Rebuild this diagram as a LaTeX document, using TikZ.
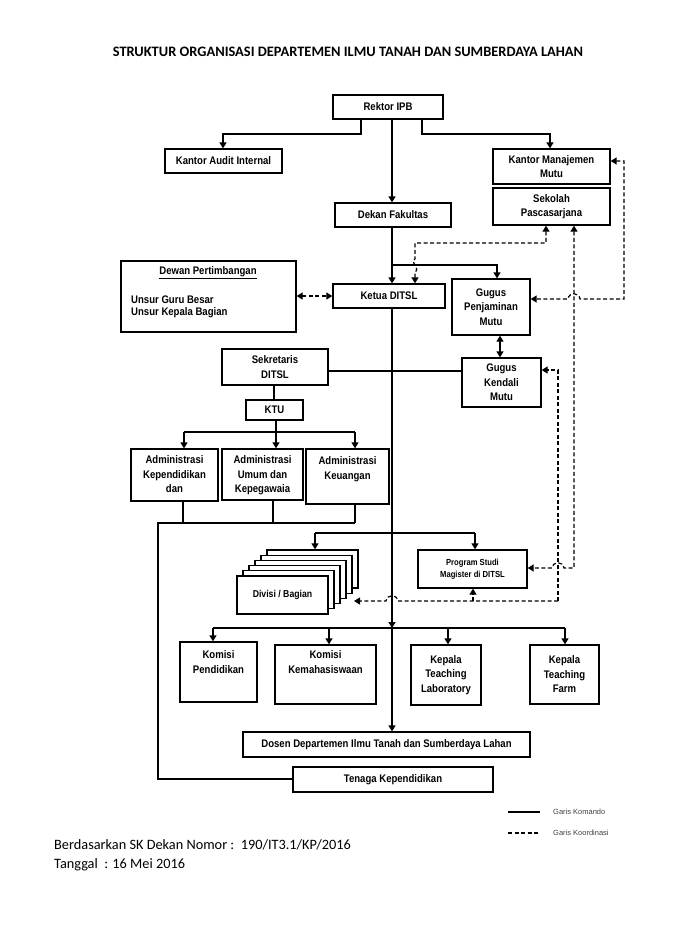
\documentclass[tikz,border=0pt]{standalone}
\usepackage{fontspec}
\setmainfont{Liberation Sans}
\newfontfamily\narrowfont[FakeStretch=0.87]{Liberation Sans}
\newfontfamily\calfont{Carlito}
\usetikzlibrary{arrows.meta}
\newcommand\obox[7][]{\node[bx,#1,minimum width={(#5-#3)*1pt},minimum height={(#6-#4)*1pt}] (#2) at ({(#3+#5)/2},{(#4+#6)/2}) {#7};}
\begin{document}
\begin{tikzpicture}[x=1pt,y=-1pt,
  bx/.style={draw, line width=1.3pt, inner sep=0pt, align=center, fill=white, font=\narrowfont\bfseries\fontsize{11}{14.5}\selectfont},
  txt/.style={inner sep=0pt, align=center, font=\narrowfont\bfseries\fontsize{11}{14.5}\selectfont},
  cmd/.style={line width=1.3pt},
  trunk/.style={line width=1.7pt},
  crd/.style={line width=1.2pt, dash pattern=on 4pt off 2.5pt},
  arr/.style={-{Triangle[length=6pt,width=7pt]}},
  arrb/.style={{Triangle[length=6pt,width=7pt]}-{Triangle[length=6pt,width=7pt]}},
  lgd/.style={inner sep=0pt, anchor=west, text=black!75, font=\fontsize{7.5}{8}\selectfont}]
\useasboundingbox (0,0) rectangle (697,932);

% title
\node[inner sep=0pt, font=\calfont\bfseries\fontsize{14.4}{16}\selectfont] (title) at (348,52) {STRUKTUR ORGANISASI DEPARTEMEN ILMU TANAH DAN SUMBERDAYA LAHAN};

% boxes
\obox{rek}{333}{95}{443}{119}{Rektor IPB}
\obox{kai}{165}{149}{282}{173}{Kantor Audit Internal}
\obox{kmm}{493}{149}{610}{184}{Kantor Manajemen\\Mutu}
\obox{sps}{493}{188}{610}{225}{Sekolah\\Pascasarjana}
\obox{dek}{335}{203}{451}{227}{Dekan Fakultas}
\obox{ket}{333}{284}{445}{308}{Ketua DITSL}
\obox{dew}{121}{261}{296}{332}{}
\node[txt] (dewt) at (208,273) {\underline{Dewan Pertimbangan}};
\node[txt, anchor=west] (dew1) at (131,300) {Unsur Guru Besar};
\node[txt, anchor=west] (dew2) at (131,313) {Unsur Kepala Bagian};
\obox{gpm}{452}{279}{530}{335}{Gugus\\Penjaminan\\Mutu}
\obox{gkm}{462}{358}{541}{407}{Gugus\\Kendali\\Mutu}
\obox{sek}{222}{349}{328}{385}{Sekretaris\\DITSL}
\obox{ktu}{246}{400}{303}{420}{KTU}
\obox{ak}{131}{449}{218}{501}{}
\node[txt, anchor=north] (akt) at ([yshift=-7pt]ak.north) {Administrasi\\Kependidikan\\dan};
\obox{au}{222}{449}{303}{500}{}
\node[txt, anchor=north] (aut) at ([yshift=-7pt]au.north) {Administrasi\\Umum dan\\Kepegawaia};
\obox{aku}{306}{449}{389}{504}{}
\node[txt, anchor=north] (akut) at ([yshift=-8pt]aku.north) {Administrasi\\Keuangan};
\foreach \k in {5,4,3,2,1,0}{
  \node[bx, minimum width=91pt, minimum height=38pt] (dv\k) at ({282.5+6*\k},{595-5.2*\k}) {};
}
\node[txt, font=\narrowfont\bfseries\fontsize{10}{12}\selectfont] (dvt) at (dv0) {Divisi / Bagian};
\obox[font=\narrowfont\bfseries\fontsize{8.8}{12}\selectfont]{psm}{418}{550}{527}{588}{Program Studi\\Magister di DITSL}
\obox{kpd}{180}{642}{257}{702}{}
\node[txt, anchor=north] (kpdt) at ([yshift=-9pt]kpd.north) {Komisi\\Pendidikan};
\obox{kmh}{275}{645}{376}{704}{}
\node[txt, anchor=north] (kmht) at ([yshift=-6pt]kmh.north) {Komisi\\Kemahasiswaan};
\obox{ktl}{411}{645}{481}{705}{Kepala\\Teaching\\Laboratory}
\obox{ktf}{530}{645}{599}{704}{Kepala\\Teaching\\Farm}
\obox{dos}{243}{732}{530}{757}{Dosen Departemen Ilmu Tanah dan Sumberdaya Lahan}
\obox{ten}{293}{767}{493}{792}{Tenaga Kependidikan}

% command lines
\draw[cmd,arr] (361,0 |- rek.south) -- (361,134) -| (223,0 |- kai.north);
\draw[cmd,arr] (422,0 |- rek.south) -- (422,134) -| (550,0 |- kmm.north);
\draw[trunk,arr] (392,0 |- rek.south) -- (392,0 |- dek.north);
\draw[trunk,arr] (392,0 |- dek.south) -- (392,0 |- ket.north);
\draw[cmd,arr] (392,265) -| (497,0 |- gpm.north);
\draw[trunk,arr] (392,0 |- ket.south) -- (392,628);
\draw[trunk,arr] (392,628) -- (392,0 |- dos.north);
\draw[cmd,arrb] (500,0 |- gpm.south) -- (500,0 |- gkm.north);
\draw[cmd] (sek.east |- 0,371) -- (gkm.west |- 0,371);
\draw[cmd] (sek.south -| 274,0) -- (274,0 |- ktu.north);
\draw[cmd] (276,0 |- ktu.south) -- (276,432);
\draw[cmd] (184,432) -- (355,432);
\draw[cmd,arr] (184,432) -- (184,0 |- ak.north);
\draw[cmd,arr] (276,432) -- (276,0 |- au.north);
\draw[cmd,arr] (355,432) -- (355,0 |- aku.north);
\draw[cmd] (183,0 |- ak.south) -- (183,523);
\draw[cmd] (273,0 |- au.south) -- (273,523);
\draw[cmd] (355,0 |- aku.south) -- (355,523);
\draw[cmd] (355,523) -- (158,523) -- (158,779) -- (ten.west |- 0,779);
\draw[cmd] (315,533) -- (475,533);
\draw[cmd,arr] (315,533) -- (315,0 |- dv5.north);
\draw[cmd,arr] (475,533) -- (475,0 |- psm.north);
\draw[cmd] (213,628) -- (565,628);
\draw[cmd,arr] (213,628) -- (213,0 |- kpd.north);
\draw[cmd,arr] (329,628) -- (329,0 |- kmh.north);
\draw[cmd,arr] (448,628) -- (448,0 |- ktl.north);
\draw[cmd,arr] (565,628) -- (565,0 |- ktf.north);

% coordination lines
\draw[crd,arrb] (dew.east |- ket.west) -- (ket.west);
\draw[crd,arrb] (kmm.east |- 0,161) -- (624,161) -- (624,299) -- (580,299)
  .. controls (579,292) and (569,292) .. (568,299) -- (gpm.east |- 0,299);
\draw[crd,arrb] (546,0 |- sps.south) -- (546,243) -- (415,243) -- (415,259)
  .. controls (409,261) and (421,269) .. (415,272) -- (415,0 |- ket.north);
\draw[crd,arrb] (574,0 |- sps.south) -- (574,568) -- (564,568)
  .. controls (563,561) and (553,561) .. (552,568) -- (psm.east |- 0,568);
\draw[crd,-{Triangle[length=6pt,width=7pt]}] (558,601) -- (558,370) -- (gkm.east |- 0,370);
\draw[crd,-{Triangle[length=6pt,width=7pt]}] (558,601) -- (398,601)
  .. controls (397,594) and (387,594) .. (386,601) -- (354,601);
\draw[crd,-{Triangle[length=6pt,width=7pt]}] (473,601) -- (473,0 |- psm.south);

% legend
\coordinate (l1a) at (508,812); \coordinate (l1b) at (540,812);
\coordinate (l2a) at (508,833); \coordinate (l2b) at (540,833);
\draw[line width=1.2pt] (l1a) -- (l1b);
\draw[line width=1.2pt, dash pattern=on 4pt off 2.5pt] (l2a) -- (l2b);
\node[lgd] (lt1) at (553,812) {Garis Komando};
\node[lgd] (lt2) at (553,833) {Garis Koordinasi};

% footer
\node[inner sep=0pt, anchor=west, font=\calfont\fontsize{14.3}{16}\selectfont] (f1) at (54,845) {Berdasarkan SK Dekan Nomor :\ \ 190/IT3.1/KP/2016};
\node[inner sep=0pt, anchor=west, font=\calfont\fontsize{14.3}{16}\selectfont] (f2) at (54,865) {Tanggal\ \ : 16 Mei 2016};
\end{tikzpicture}
\end{document}
